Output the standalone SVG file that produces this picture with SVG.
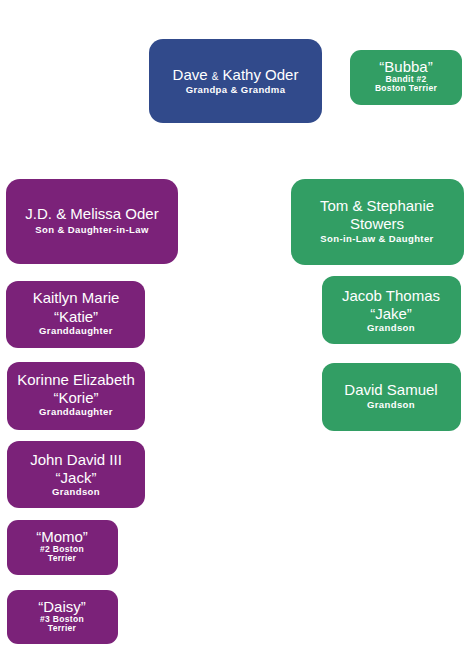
<svg xmlns="http://www.w3.org/2000/svg" width="475" height="663" viewBox="0 0 475 663">
<style>
.blue{fill:#314a8b}
.green{fill:#329e64}
.purple{fill:#7b2279}
text{fill:#fff;text-anchor:middle;font-family:"Liberation Sans",Arial,sans-serif}
.m{font-size:15px}
.s{font-size:9.5px;font-weight:bold;letter-spacing:0.4px}
.d{font-size:8.5px;font-weight:bold;letter-spacing:0.3px}
.amp{font-size:10px}
</style>
<rect width="475" height="663" fill="#fff"/>
<g id="connectors"></g>
<g id="dave-kathy">
<rect class="blue" x="149" y="39" width="173" height="84" rx="14"/>
<text class="m" x="235.5" y="80">Dave <tspan class="amp">&amp;</tspan> Kathy Oder</text>
<text class="s" x="235.5" y="93">Grandpa &amp; Grandma</text>
</g>
<g id="bubba">
<rect class="green" x="350" y="50" width="112" height="55" rx="11"/>
<text class="m" x="406" y="72">“Bubba”</text>
<text class="d" x="406" y="82">Bandit #2</text>
<text class="d" x="406" y="91">Boston Terrier</text>
</g>
<g id="jd-melissa">
<rect class="purple" x="6" y="179" width="172" height="85" rx="14"/>
<text class="m" x="92" y="219">J.D. &amp; Melissa Oder</text>
<text class="s" x="92" y="233">Son &amp; Daughter-in-Law</text>
</g>
<g id="tom-stephanie">
<rect class="green" x="291" y="179" width="173" height="86" rx="14"/>
<text class="m" x="377" y="211">Tom &amp; Stephanie</text>
<text class="m" x="377" y="229">Stowers</text>
<text class="s" x="377" y="242">Son-in-Law &amp; Daughter</text>
</g>
<g id="jacob">
<rect class="green" x="322" y="276" width="139" height="68" rx="12"/>
<text class="m" x="391" y="301">Jacob Thomas</text>
<text class="m" x="391" y="319">“Jake”</text>
<text class="s" x="391" y="331">Grandson</text>
</g>
<g id="kaitlyn">
<rect class="purple" x="6" y="281" width="139" height="67" rx="12"/>
<text class="m" x="76" y="303">Kaitlyn Marie</text>
<text class="m" x="76" y="322">“Katie”</text>
<text class="s" x="76" y="334">Granddaughter</text>
</g>
<g id="korinne">
<rect class="purple" x="7" y="362" width="138" height="68" rx="12"/>
<text class="m" x="76" y="385">Korinne Elizabeth</text>
<text class="m" x="76" y="403">“Korie”</text>
<text class="s" x="76" y="415">Granddaughter</text>
</g>
<g id="david">
<rect class="green" x="322" y="363" width="139" height="68" rx="12"/>
<text class="m" x="391" y="395">David Samuel</text>
<text class="s" x="391" y="408">Grandson</text>
</g>
<g id="john">
<rect class="purple" x="7" y="441" width="138" height="67" rx="12"/>
<text class="m" x="76" y="465">John David III</text>
<text class="m" x="76" y="483">“Jack”</text>
<text class="s" x="76" y="495">Grandson</text>
</g>
<g id="momo">
<rect class="purple" x="7" y="520" width="111" height="55" rx="11"/>
<text class="m" x="62" y="542">“Momo”</text>
<text class="d" x="62" y="552">#2 Boston</text>
<text class="d" x="62" y="561">Terrier</text>
</g>
<g id="daisy">
<rect class="purple" x="7" y="590" width="111" height="54" rx="11"/>
<text class="m" x="62" y="612">“Daisy”</text>
<text class="d" x="62" y="622">#3 Boston</text>
<text class="d" x="62" y="631">Terrier</text>
</g>
</svg>
